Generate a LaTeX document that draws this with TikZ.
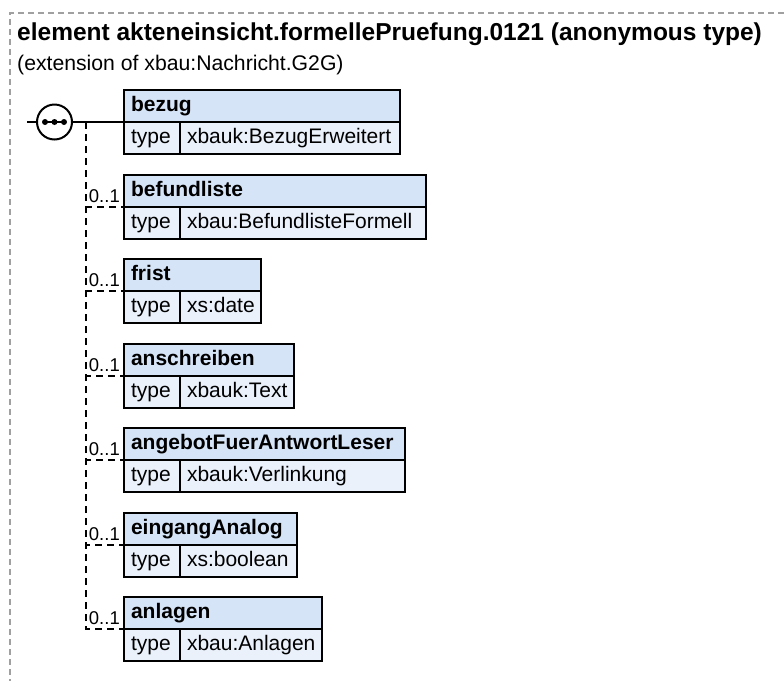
\documentclass[tikz,border=0pt]{standalone}
\usepackage{fontspec}
\setmainfont{Liberation Sans}
\usetikzlibrary{positioning}

\definecolor{hdrfill}{RGB}{214,228,248}
\definecolor{typfill}{RGB}{234,241,251}
\definecolor{framegray}{RGB}{160,160,160}

\begin{document}
\begin{tikzpicture}[x=1pt, y=-1pt,
    hdr/.style={draw, line width=2pt, fill=hdrfill, anchor=north west, outer sep=0pt, minimum height=32pt, inner xsep=7pt, inner ysep=0pt, text height=15pt, text depth=4.5pt, align=left, font=\bfseries\fontsize{21}{24}\selectfont},
    cell/.style={draw, line width=2pt, fill=typfill, anchor=north west, outer sep=0pt, minimum height=32pt, inner xsep=7pt, inner ysep=0pt, text height=15pt, text depth=4.5pt, align=left, font=\fontsize{21}{24}\selectfont},
    mult/.style={anchor=base east, inner sep=0pt, xshift=-4pt, yshift=5pt, font=\fontsize{18.5}{20}\selectfont},
    seq/.style={draw, circle, line width=2pt, fill=white, minimum size=35pt, inner sep=0pt},
    conn/.style={line width=2pt},
    opt/.style={line width=2pt, dash pattern=on 7pt off 5pt}
]
\useasboundingbox (0,0) rectangle (784,681);
\draw[framegray, line width=1.4pt, dash pattern=on 6pt off 4pt] (784,13) -| (10,681);

\node[anchor=base west, inner sep=0pt, font=\bfseries\fontsize{24.5}{28}\selectfont] (title) at (17,40) {element akteneinsicht.formellePruefung.0121 (anonymous type)};
\node[anchor=base west, inner sep=0pt, font=\fontsize{21.2}{24}\selectfont] (ext) at (17,70) {(extension of xbau:Nachricht.G2G)};

% sequence
\node[seq] (seq) at (54.5,122) {};
\draw[conn] ([xshift=-9.5pt]seq.center) -- ([xshift=9.5pt]seq.center);
\foreach \dx in {-9.5,0,9.5}
    \fill ([xshift=\dx pt]seq.center) circle (3pt);
\coordinate (in) at (27,122);
\coordinate (split) at (86,122);

% elements
\node[hdr, text width=262pt] (bezug) at (124,90) {bezug};
\node[cell, text width=42pt] (bezugK) at (bezug.south west) {type};
\node[cell, text width=206pt, right=0pt of bezugK] (bezugV) {xbauk:BezugErweitert};

\node[hdr, text width=288pt] (befund) at (124,175) {befundliste};
\node[cell, text width=42pt] (befundK) at (befund.south west) {type};
\node[cell, text width=232pt, right=0pt of befundK] (befundV) {xbau:BefundlisteFormell};

\node[hdr, text width=123pt] (frist) at (124,259) {frist};
\node[cell, text width=42pt] (fristK) at (frist.south west) {type};
\node[cell, text width=67pt, right=0pt of fristK] (fristV) {xs:date};

\node[hdr, text width=156pt] (anschr) at (124,344) {anschreiben};
\node[cell, text width=42pt] (anschrK) at (anschr.south west) {type};
\node[cell, text width=100pt, right=0pt of anschrK] (anschrV) {xbauk:Text};

\node[hdr, text width=267pt] (angebot) at (124,428) {angebotFuerAntwortLeser};
\node[cell, text width=42pt] (angebotK) at (angebot.south west) {type};
\node[cell, text width=211pt, right=0pt of angebotK] (angebotV) {xbauk:Verlinkung};

\node[hdr, text width=159pt] (eingang) at (124,513) {eingangAnalog};
\node[cell, text width=42pt] (eingangK) at (eingang.south west) {type};
\node[cell, text width=103pt, right=0pt of eingangK] (eingangV) {xs:boolean};

\node[hdr, text width=184pt] (anlagen) at (124,597) {anlagen};
\node[cell, text width=42pt] (anlagenK) at (anlagen.south west) {type};
\node[cell, text width=128pt, right=0pt of anlagenK] (anlagenV) {xbau:Anlagen};

% connectors
\draw[conn] (in) -- (seq);
\draw[conn] (seq) -- (bezugK.north west);
\draw[opt] (split) |- (befundK.north west);
\draw[opt] (split) |- (fristK.north west);
\draw[opt] (split) |- (anschrK.north west);
\draw[opt] (split) |- (angebotK.north west);
\draw[opt] (split) |- (eingangK.north west);
\draw[opt] (split) |- (anlagenK.north west);

\node[mult] (m2) at (befundK.north west) {0..1};
\node[mult] (m3) at (fristK.north west) {0..1};
\node[mult] (m4) at (anschrK.north west) {0..1};
\node[mult] (m5) at (angebotK.north west) {0..1};
\node[mult] (m6) at (eingangK.north west) {0..1};
\node[mult] (m7) at (anlagenK.north west) {0..1};
\end{tikzpicture}
\end{document}
